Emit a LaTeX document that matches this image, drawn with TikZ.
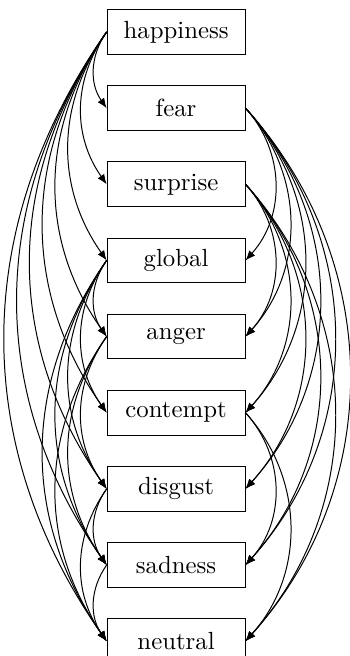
\documentclass[tikz,border=0pt]{standalone}
\usetikzlibrary{arrows.meta, positioning}

\begin{document}
\begin{tikzpicture}[
    node distance=12.3pt,
    emo/.style={draw, rectangle, minimum width=55.6pt, minimum height=18pt},
    toleft/.style={-{Latex[length=4pt, width=3.2pt]}, bend right=35},
    toright/.style={-{Latex[length=4pt, width=3.2pt]}, bend left=42}
]
\useasboundingbox (-71pt,12.9pt) rectangle (70.1pt,-251.6pt);

% The emotion boxes, one under the other
\node[emo] (happiness) {happiness};
\node[emo, below=of happiness] (fear) {fear};
\node[emo, below=of fear] (surprise) {surprise};
\node[emo, below=of surprise] (global) {global};
\node[emo, below=of global] (anger) {anger};
\node[emo, below=of anger] (contempt) {contempt};
\node[emo, below=of contempt] (disgust) {disgust};
\node[emo, below=of disgust] (sadness) {sadness};
\node[emo, below=of sadness] (neutral) {neutral};

% Edges on the left side
\foreach \t in {fear, surprise, global, anger, contempt, disgust, sadness, neutral}
    \draw[toleft] (happiness.west) to (\t.west);
\foreach \t in {anger, contempt, disgust, sadness, neutral}
    \draw[toleft] (global.west) to (\t.west);
\foreach \t in {disgust, sadness, neutral}
    \draw[toleft] (anger.west) to (\t.west);
\foreach \t in {sadness, neutral}
    \draw[toleft] (disgust.west) to (\t.west);
\draw[toleft] (sadness.west) to (neutral.west);

% Edges on the right side
\foreach \t in {global, anger, contempt, disgust, sadness, neutral}
    \draw[toright] (fear.east) to (\t.east);
\foreach \t in {anger, contempt, disgust, sadness, neutral}
    \draw[toright] (surprise.east) to (\t.east);
\foreach \t in {sadness, neutral}
    \draw[toright] (contempt.east) to (\t.east);

\end{tikzpicture}
\end{document}
